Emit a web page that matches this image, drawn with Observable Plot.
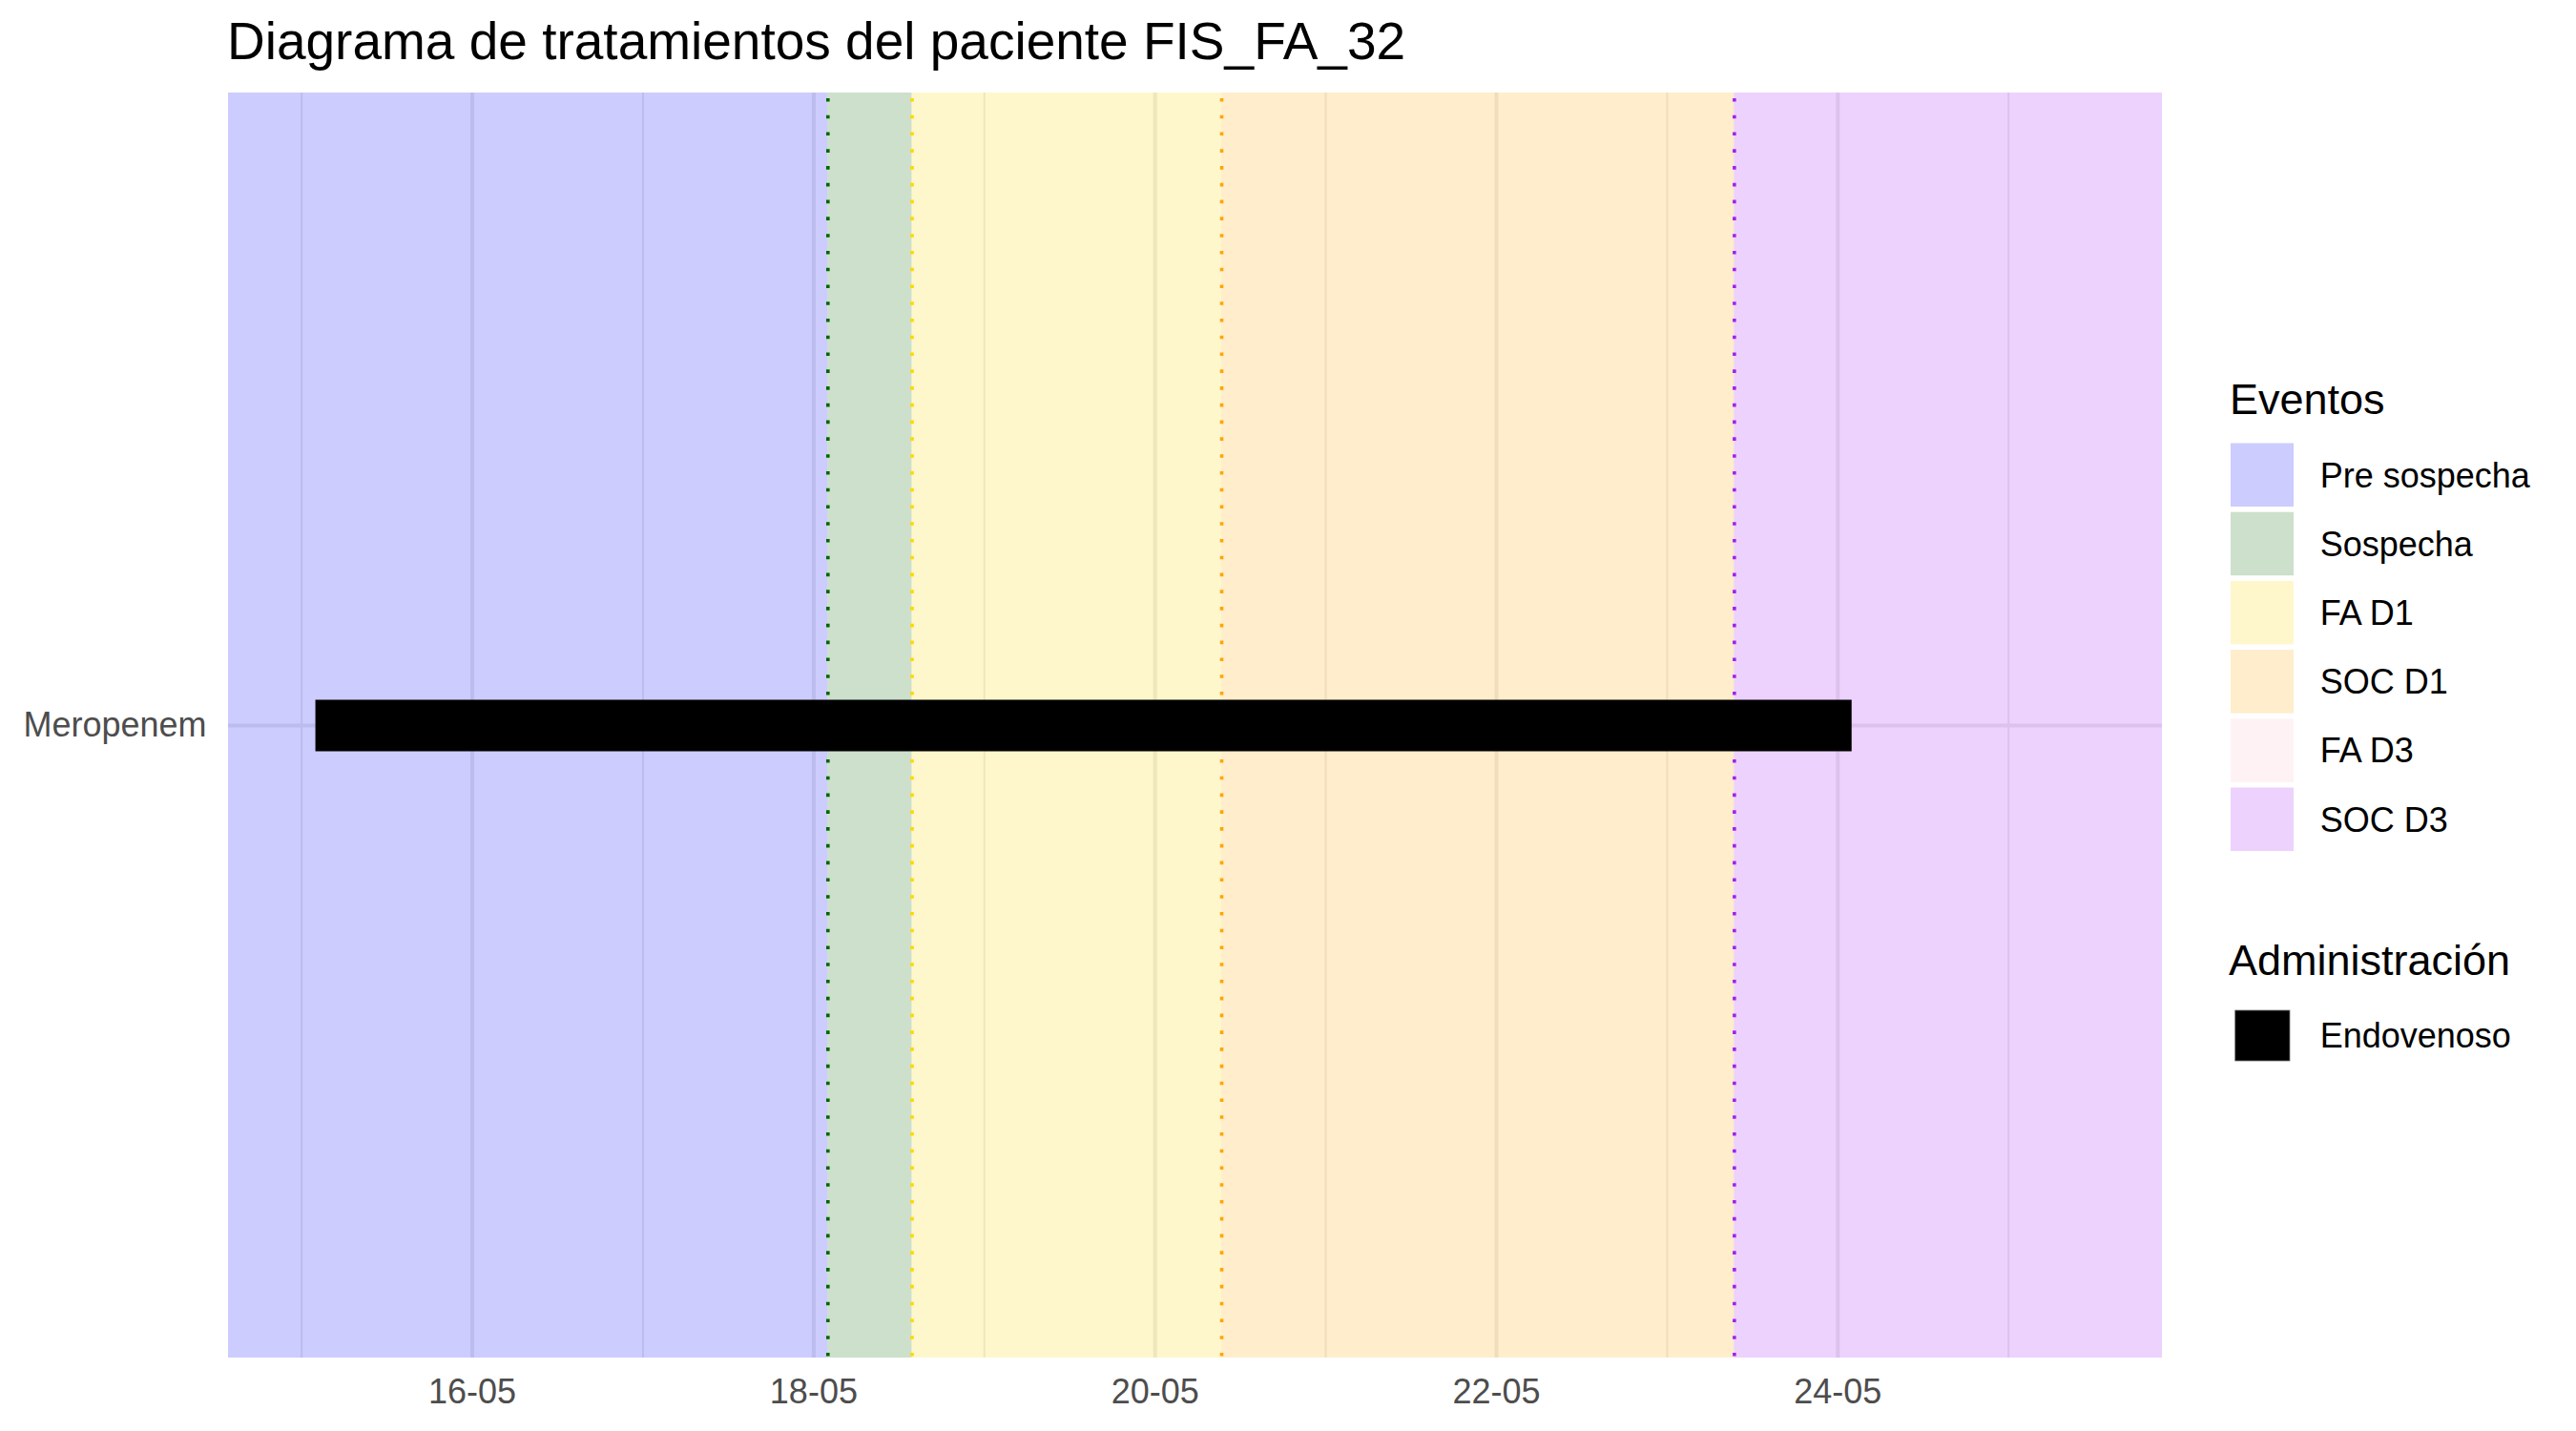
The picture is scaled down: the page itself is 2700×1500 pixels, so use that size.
<!DOCTYPE html>
<html>
<head>
<meta charset="utf-8">
<script src="https://cdn.jsdelivr.net/npm/d3@7"></script>
<script src="https://cdn.jsdelivr.net/npm/@observablehq/plot@0.6"></script>
<style>
html, body { margin: 0; padding: 0; background: #fff; }
#root { position: relative; width: 2700px; height: 1500px; overflow: hidden;
  font-family: "Liberation Sans", Arial, Helvetica, sans-serif; }
#title { position: absolute; left: 238px; top: 16px; font-size: 55px; line-height: 55px;
  color: #000; white-space: nowrap; }
#chart { position: absolute; left: 0; top: 80px; }
#legend { position: absolute; left: 2270px; top: 0; }
</style>
</head>
<body>
<div id="root">
  <div id="title"></div>
  <div id="chart"></div>
  <div id="legend"></div>
</div>
<script>
// ---------------- data ----------------
const titleText = "Diagrama de tratamientos del paciente FIS_FA_32";

const eventNames  = ["Pre sospecha", "Sospecha", "FA D1", "SOC D1", "FA D3", "SOC D3"];
const eventColors = ["#0000FF", "#006400", "#FFD700", "#FFA500", "#FFC0CB", "#A020F0"];
// start of each event (null = not recorded / before the chart start)
const eventStarts = [null, "2023-05-18T02:00Z", "2023-05-18T13:50Z", "2023-05-20T09:22Z", null, "2023-05-23T09:27Z"];

const xLimits = ["2023-05-14T13:43Z", "2023-05-25T21:38Z"];

const drugs      = ["Meropenem"];
const drugStarts = ["2023-05-15T02:00Z"];
const drugEnds   = ["2023-05-24T02:00Z"];
const drugRoutes = ["Endovenoso"];

const routeNames  = ["Endovenoso"];
const routeColors = ["#000000"];

const majorTicks = ["2023-05-16", "2023-05-18", "2023-05-20", "2023-05-22", "2023-05-24"];
const minorTicks = ["2023-05-15", "2023-05-17", "2023-05-19", "2023-05-21", "2023-05-23", "2023-05-25"];
const tickFormat = "%d-%m";

// ---------------- build tables ----------------
const FONT = '"Liberation Sans", Arial, Helvetica, sans-serif';
document.getElementById("title").textContent = titleText;

const xMin = new Date(xLimits[0]), xMax = new Date(xLimits[1]);
const starts = eventStarts.map((s, i) => (i === 0 && s === null) ? xMin : (s ? new Date(s) : null));
const present = eventNames.map((n, i) => ({event: n, start: starts[i]})).filter(d => d.start);
const bands = present.map((d, i) => ({event: d.event, start: d.start,
  end: i + 1 < present.length ? present[i + 1].start : xMax}));
const lines = eventNames.map((n, i) => ({event: n, start: eventStarts[i] ? new Date(eventStarts[i]) : null}))
  .filter(d => d.start);

const treatments = drugs.map((d, i) => ({drug: d, start: new Date(drugStarts[i]), end: new Date(drugEnds[i]), route: drugRoutes[i]}));
const major = majorTicks.map(d => new Date(d + "T00:00Z"));
const minor = minorTicks.map(d => new Date(d + "T00:00Z"));

const chart = Plot.plot({
  width: 2300,
  height: 1420,
  marginLeft: 239,
  marginRight: 34,
  marginTop: 17,
  marginBottom: 77,
  style: {fontFamily: FONT, fontSize: "36px", color: "#4D4D4D", background: "white", overflow: "visible"},
  x: {type: "utc", domain: [xMin, xMax], label: null},
  y: {type: "point", domain: drugs, label: null},
  color: {domain: eventNames, range: eventColors},
  marks: [
    Plot.ruleX(minor, {stroke: "#EBEBEB", strokeWidth: 2}),
    Plot.ruleX(major, {stroke: "#EBEBEB", strokeWidth: 4}),
    Plot.ruleY(drugs, {stroke: "#EBEBEB", strokeWidth: 4}),
    Plot.rect(bands, {x1: "start", x2: "end", fill: "event", fillOpacity: 0.2}),
    Plot.ruleX(lines, {x: "start", stroke: "event", strokeWidth: 3.6,
      strokeDasharray: "3.6,14.17", strokeDashoffset: 11.8}),
    ...routeNames.map((r, i) => Plot.ruleY(treatments.filter(t => t.route === r),
      {y: "drug", x1: "start", x2: "end", stroke: routeColors[i], strokeWidth: 54})),
    Plot.axisX(major, {tickFormat: d3.utcFormat(tickFormat), tickSize: 0, tickPadding: 22,
      fontSize: 36, fill: "#4D4D4D"}),
    Plot.axisY({tickSize: 0, tickPadding: 23, fontSize: 36, fill: "#4D4D4D"})
  ]
});
document.getElementById("chart").appendChild(chart);

// ---------------- legend ----------------
const ox = 2270;
const lg = d3.select("#legend").append("svg")
  .attr("width", 430).attr("height", 1500)
  .style("font-family", FONT);

lg.append("text").attr("x", 2337 - ox).attr("y", 434)
  .attr("font-size", 45).attr("fill", "#000").text("Eventos");
eventNames.forEach((n, i) => {
  const top = 464.5 + i * 72.2;
  lg.append("rect").attr("x", 2338 - ox).attr("y", top).attr("width", 66).attr("height", 66.5)
    .attr("fill", "#fff");
  lg.append("rect").attr("x", 2338 - ox).attr("y", top).attr("width", 66).attr("height", 66.5)
    .attr("fill", eventColors[i]).attr("fill-opacity", 0.2);
  lg.append("text").attr("x", 2431.7 - ox).attr("y", top + 46)
    .attr("font-size", 36).attr("fill", "#000").text(n);
});

lg.append("text").attr("x", 2336 - ox).attr("y", 1021.7)
  .attr("font-size", 45).attr("fill", "#000").text("Administración");
routeNames.forEach((r, i) => {
  const top = 1059 + i * 72.2;
  lg.append("rect").attr("x", 2342.7 - ox).attr("y", top).attr("width", 57.3).attr("height", 53)
    .attr("fill", routeColors[i]).attr("stroke", "#777").attr("stroke-width", 0.8);
  lg.append("text").attr("x", 2431.7 - ox).attr("y", 1098.3 + i * 72.2)
    .attr("font-size", 36).attr("fill", "#000").text(r);
});
</script>
</body>
</html>
